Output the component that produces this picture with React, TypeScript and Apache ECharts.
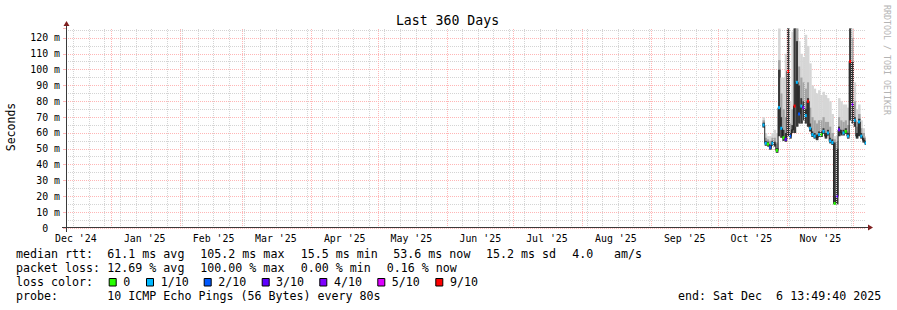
import React, { useEffect, useRef } from "react";
import * as echarts from "echarts";

// ---------- time frame ----------
const chartStart = "2024-12-11T13:49:40Z";
const chartEnd = "2025-12-06T13:49:40Z";

// ---------- x axis ----------
const xLabelText = ["Dec '24", "Jan '25", "Feb '25", "Mar '25", "Apr '25", "May '25", "Jun '25", "Jul '25", "Aug '25", "Sep '25", "Oct '25", "Nov '25"];
const xLabelDates = ["2024-12-16", "2025-01-16", "2025-02-16", "2025-03-16", "2025-04-16", "2025-05-16", "2025-06-16", "2025-07-16", "2025-08-16", "2025-09-16", "2025-10-16", "2025-11-16"];
const monthStarts = ["2025-01-01", "2025-02-01", "2025-03-01", "2025-04-01", "2025-05-01", "2025-06-01", "2025-07-01", "2025-08-01", "2025-09-01", "2025-10-01", "2025-11-01", "2025-12-01"];
const firstWeekLine = "2024-12-15";

// ---------- y axis ----------
const yMax = 126.3;
const yInterval = 10;
const yTopLabel = 120;

// ---------- samples (one per day) ----------
const sampleDays = [
  "2025-10-21", "2025-10-22", "2025-10-23", "2025-10-24", "2025-10-25", "2025-10-26", "2025-10-27", "2025-10-28", "2025-10-29", "2025-10-30", "2025-10-31",
  "2025-11-01", "2025-11-02", "2025-11-03", "2025-11-04", "2025-11-05", "2025-11-06", "2025-11-07", "2025-11-08", "2025-11-09", "2025-11-10",
  "2025-11-11", "2025-11-12", "2025-11-13", "2025-11-14", "2025-11-15", "2025-11-16", "2025-11-17", "2025-11-18", "2025-11-19", "2025-11-20",
  "2025-11-21", "2025-11-22", "2025-11-23", "2025-11-24", "2025-11-25", "2025-11-26", "2025-11-27", "2025-11-28", "2025-11-29", "2025-11-30",
  "2025-12-01", "2025-12-02", "2025-12-03", "2025-12-04", "2025-12-05", "2025-12-06",
];
const medianRtt = [
  65, 53.5, 53, 51, 53.5, 53, 49, 76, 63, 57, 56,
  99, 58, 62, 77, 92, 72, 77, 76, 71, 80,
  63, 59, 58, 57, 59, 59, 61, 58, 60, 55,
  54, 15.5, 20, 62, 60, 60, 61, 58, 105.2, 78,
  68, 58, 67, 58, 55.5, 53.6,
];
const pingMin = [
  63.5, 52, 51.5, 49.5, 52, 51.5, 47.5, 58, 57, 55, 54.5,
  58, 56.5, 60, 60, 64, 66, 66, 68, 66, 64,
  61, 57.5, 56.5, 55.5, 57.5, 57.5, 59.5, 56.5, 58.5, 53.5,
  52.5, 15, 15, 58, 58.5, 58.5, 59.5, 56.5, 68, 66,
  64, 56.5, 58, 56.5, 54, 52.5,
];
const pingDark = [
  66.5, 55, 54.5, 52.5, 55, 54.5, 50.5, 100, 70, 62, 60,
  126, 60, 65, 126, 118, 90, 82, 80, 75, 82,
  66, 61, 60, 59, 61, 61, 63, 60, 62, 57,
  56, 54, 50, 64, 62, 62, 63, 60, 126, 105,
  70, 60, 69, 60, 57, 55,
];
const pingMid = [
  68, 57, 56, 55, 57, 57, 54, 106, 85, 75, 70,
  126, 66, 75, 126, 126, 102, 95, 92, 88, 92,
  76, 70, 68, 66, 68, 68, 70, 67, 67, 64,
  60, 56, 55, 70, 68, 67, 68, 65, 126, 120,
  80, 64, 72, 63, 60, 57,
];
const pingMax = [
  70, 60, 58, 58, 60, 62, 60, 126, 95, 95, 110,
  126, 80, 124, 126, 126, 118, 110, 108, 122, 115,
  104, 90, 88, 85, 87, 84, 86, 84, 82, 80,
  72, 58, 58, 82, 80, 78, 78, 76, 126, 126,
  92, 75, 78, 68, 63, 58,
];
const lossBucket = [
  "1/10", "1/10", "0", "2/10", "1/10", "", "0", "1/10", "1/10", "0", "3/10",
  "9/10", "2/10", "", "9/10", "1/10", "2/10", "1/10", "4/10", "1/10", "9/10",
  "1/10", "1/10", "1/10", "", "1/10", "0", "1/10", "", "1/10", "1/10",
  "1/10", "0", "3/10", "3/10", "", "1/10", "0", "1/10", "9/10", "4/10",
  "1/10", "", "1/10", "1/10", "", "1/10",
];

// ---------- legend ----------
const lossLabels = ["0", "1/10", "2/10", "3/10", "4/10", "5/10", "9/10"];
const lossColors = ["#26ff00", "#00b8ff", "#0059ff", "#5e00ff", "#7e00ff", "#dd00ff", "#ff0000"];
const rttStats = ["61.1 ms avg", "105.2 ms max", "15.5 ms min", "53.6 ms now", "15.2 ms sd", "4.0", "am/s"];
const lossStats = ["12.69 % avg", "100.00 % max", "0.00 % min", "0.16 % now"];
const probeText = "10 ICMP Echo Pings (56 Bytes) every 80s";
const endText = "end: Sat Dec\u00a0 6 13:49:40 2025";
const titleText = "Last 360 Days";
const yAxisTitle = "Seconds";
const watermark = "RRDTOOL / TOBI OETIKER";

const DAY = 86400000;
const MONO = "DejaVu Sans Mono";

export default function App() {
  const ref = useRef<HTMLDivElement>(null);

  useEffect(() => {
    if (!ref.current) return;
    const chart = echarts.init(ref.current, null, { renderer: "svg" });

    const startMs = Date.parse(chartStart);
    const endMs = Date.parse(chartEnd);
    const labelMs = xLabelDates.map((d) => Date.parse(d + "T00:00:00Z"));
    const monthMs = monthStarts.map((d) => Date.parse(d + "T00:00:00Z"));
    const weekMs: number[] = [];
    for (let t = Date.parse(firstWeekLine + "T00:00:00Z"); t < endMs; t += 7 * DAY) weekMs.push(t);
    const sampleMs = sampleDays.map((d) => Date.parse(d + "T00:00:00Z"));

    const gridLeft = 66, gridTop = 28, gridW = 800, gridH = 200;
    const axisY = gridTop + gridH;
    const majorColor = "#ffb6b6";
    const minorColor = "#d4d4d4";

    const splitColors: string[] = [];
    for (let v = 0; v <= yTopLabel; v += yInterval) splitColors.push(majorColor);
    splitColors.push("rgba(0,0,0,0)");

    const legendFont = { fontFamily: MONO, fontSize: 11.65, fill: "#000" };
    const txt = (text: string, x: number, y: number, extra: any = {}) => ({
      type: "text",
      z: 20,
      style: {
        text,
        x,
        y,
        ...legendFont,
        textVerticalAlign: "middle",
        verticalAlign: "middle",
        ...extra,
      },
    });

    const graphics: any[] = [];
    graphics.push(txt(titleText, 447.5, 20, { fontSize: 13.2, textAlign: "center", align: "center" }));
    graphics.push({
      type: "text",
      z: 20,
      x: 11,
      y: 127,
      rotation: Math.PI / 2,
      style: { text: yAxisTitle, x: 0, y: 0, fontFamily: MONO, fontSize: 11.5, fill: "#000", textAlign: "center", align: "center", textVerticalAlign: "middle", verticalAlign: "middle" },
    });
    graphics.push({
      type: "text",
      z: 20,
      x: 887,
      y: 60,
      rotation: -Math.PI / 2,
      style: { text: watermark, x: 0, y: 0, fontFamily: MONO, fontSize: 8.3, fill: "#b4b4b4", textAlign: "center", align: "center", textVerticalAlign: "middle", verticalAlign: "middle" },
    });

    // legend rows
    const row1 = 254.3, row2 = 268.3, row3 = 282.3, row4 = 296;
    graphics.push(txt("median rtt:", 16, row1));
    const rttX = [107.3, 200.3, 300.7, 393.3, 486, 572.3, 614];
    rttStats.forEach((s, i) => graphics.push(txt(s, rttX[i], row1)));
    graphics.push(txt("packet loss:", 16, row2));
    const lossX = [107.3, 200.3, 300.7, 386.7];
    lossStats.forEach((s, i) => graphics.push(txt(s, lossX[i], row2)));
    graphics.push(txt("loss color:", 16, row3));
    const boxX = [108.7, 146, 203.7, 261.7, 319.3, 377.3, 435.3];
    const boxLabelX = [123.3, 160.7, 218.3, 276, 334, 391.7, 450];
    lossLabels.forEach((l, i) => {
      graphics.push({
        type: "rect",
        z: 20,
        shape: { x: boxX[i] + 0.5, y: 278.5, width: 7, height: 7.5 },
        style: { fill: lossColors[i], stroke: "#000", lineWidth: 1 },
      });
      graphics.push(txt(l, boxLabelX[i], row3));
    });
    graphics.push(txt("probe:", 16, row4));
    graphics.push(txt(probeText, 107.3, row4));
    graphics.push(txt(endText, 678, row4));

    // axes lines and arrows
    graphics.push({ type: "line", z: 30, shape: { x1: gridLeft + 0.5, y1: axisY + 4, x2: gridLeft + 0.5, y2: gridTop - 4 }, style: { stroke: "#3a3a3a", lineWidth: 1 } });
    graphics.push({ type: "line", z: 30, shape: { x1: gridLeft - 4, y1: axisY - 0.5, x2: gridLeft + gridW + 3, y2: axisY - 0.5 }, style: { stroke: "#3a3a3a", lineWidth: 1 } });
    graphics.push({ type: "polygon", z: 31, shape: { points: [[gridLeft - 2.5, gridTop - 2], [gridLeft + 3.5, gridTop - 2], [gridLeft + 0.5, gridTop - 7]] }, style: { fill: "#7f1f1f" } });
    graphics.push({ type: "polygon", z: 31, shape: { points: [[gridLeft + gridW + 2, axisY - 3.5], [gridLeft + gridW + 2, axisY + 2.5], [gridLeft + gridW + 7, axisY - 0.5]] }, style: { fill: "#7f1f1f" } });

    const smokeData = sampleMs.map((t, i) => [t, pingMin[i], pingDark[i], pingMid[i], pingMax[i]]);
    const medianData = sampleMs.map((t, i) => [t, medianRtt[i]]);
    const lossData = sampleMs.map((t, i) => [t, medianRtt[i], lossLabels.indexOf(lossBucket[i])]);

    const option: any = {
      animation: false,
      backgroundColor: "#ffffff",
      grid: { left: gridLeft, top: gridTop, width: gridW, height: gridH, containLabel: false, outerBoundsMode: "none" },
      xAxis: {
        type: "value",
        min: startMs,
        max: endMs,
        axisLine: { show: false },
        axisTick: { show: false },
        splitLine: { show: false },
        axisLabel: {
          customValues: labelMs,
          formatter: (v: number) => {
            const i = labelMs.indexOf(v);
            return i >= 0 ? xLabelText[i] : "";
          },
          fontFamily: MONO,
          fontSize: 9.9,
          color: "#000",
          margin: 5,
        },
      },
      yAxis: {
        type: "value",
        min: 0,
        max: yMax,
        interval: yInterval,
        axisLine: { show: false },
        axisTick: { show: true, length: 3, lineStyle: { color: majorColor } },
        axisLabel: {
          fontFamily: MONO,
          fontSize: 9.9,
          color: "#000",
          margin: 6,
          formatter: (v: number) => {
            if (v === 0) return "0\u00a0\u00a0";
            if (Math.abs(v % yInterval) < 1e-6 && v <= yTopLabel) return `${v} m`;
            return "";
          },
        },
        splitLine: { show: true, lineStyle: { color: splitColors, type: [1, 1], width: 1 } },
        minorTick: { show: false, splitNumber: 2 },
        minorSplitLine: { show: true, lineStyle: { color: minorColor, type: [1, 1], width: 1 } },
      },
      series: [
        {
          type: "line",
          data: [],
          z: 1,
          silent: true,
          markLine: {
            silent: true,
            symbol: "none",
            label: { show: false },
            lineStyle: { color: minorColor, type: [1, 1], width: 1 },
            data: weekMs.map((t) => ({ xAxis: t })),
          },
        },
        {
          type: "line",
          data: [],
          z: 1,
          silent: true,
          markLine: {
            silent: true,
            symbol: "none",
            label: { show: false },
            lineStyle: { color: majorColor, type: [1, 1], width: 1 },
            data: monthMs.map((t) => ({ xAxis: t })),
          },
        },
        {
          type: "custom",
          z: 2,
          clip: true,
          silent: true,
          data: smokeData,
          encode: { x: 0, y: [1, 4] },
          renderItem: (params: any, api: any) => {
            const t = api.value(0);
            const xa = api.coord([t, 0])[0];
            const xb = api.coord([t + DAY, 0])[0];
            const w = xb - xa + 0.3;
            const yLo = api.coord([t, api.value(1)])[1];
            const yDark = api.coord([t, api.value(2)])[1];
            const yMidV = api.coord([t, api.value(3)])[1];
            const yMaxV = api.coord([t, api.value(4)])[1];
            return {
              type: "group",
              children: [
                { type: "rect", shape: { x: xa, y: yMaxV, width: w, height: yLo - yMaxV }, style: { fill: "#d6d6d6" } },
                { type: "rect", shape: { x: xa, y: yMidV, width: w, height: yLo - yMidV }, style: { fill: "#a4a4a4" } },
                { type: "rect", shape: { x: xa, y: yDark, width: w, height: yLo - yDark }, style: { fill: "#383838" } },
              ],
            };
          },
        },
        {
          type: "custom",
          z: 3,
          clip: true,
          silent: true,
          data: medianData,
          encode: { x: 0, y: 1 },
          renderItem: (params: any, api: any) => {
            const i = params.dataIndex;
            const t = api.value(0);
            const p = api.coord([t, api.value(1)]);
            const xb = api.coord([t + DAY, 0])[0];
            const children: any[] = [
              { type: "line", shape: { x1: p[0], y1: p[1], x2: xb, y2: p[1] }, style: { stroke: "#202020", lineWidth: 1 } },
            ];
            if (i > 0) {
              const yp = api.coord([t, medianRtt[i - 1]])[1];
              children.push({ type: "line", shape: { x1: p[0], y1: yp, x2: p[0], y2: p[1] }, style: { stroke: "#202020", lineWidth: 1 } });
            }
            return { type: "group", children };
          },
        },
        {
          type: "custom",
          z: 4,
          clip: true,
          silent: true,
          data: lossData,
          encode: { x: 0, y: 1 },
          renderItem: (params: any, api: any) => {
            const idx = api.value(2);
            if (idx < 0) return { type: "group", children: [] };
            const t = api.value(0);
            const p = api.coord([t, api.value(1)]);
            const xb = api.coord([t + DAY, 0])[0];
            return {
              type: "rect",
              shape: { x: p[0], y: p[1] - 1.5, width: Math.max(2, xb - p[0] - 0.2), height: 3 },
              style: { fill: lossColors[idx] },
            };
          },
        },
      ],
      graphic: { elements: graphics },
    };

    chart.setOption(option);
    return () => chart.dispose();
  }, []);

  return <div ref={ref} style={{ position: "absolute", left: 0, top: 0, width: 897, height: 310 }} />;
}
